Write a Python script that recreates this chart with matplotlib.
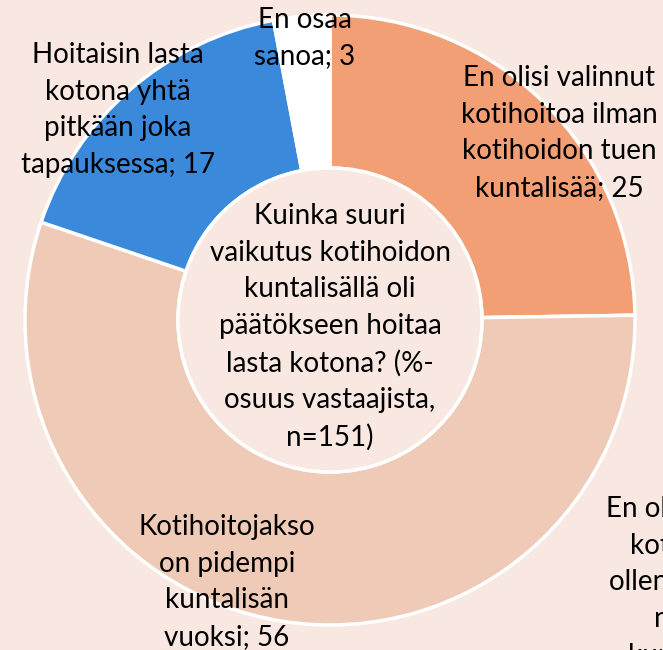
import matplotlib.pyplot as plt

# slice data, clockwise from 12 o'clock
labels = [
    "En olisi valinnut\nkotihoitoa ilman\nkotihoidon tuen\nkuntalisää",
    "En olisi hoitanut\nkotona lasta\nollenkaan ilman\nnykyistä\nkuntalisää",
    "Kotihoitojakso\non pidempi\nkuntalisän\nvuoksi",
    "Hoitaisin lasta\nkotona yhtä\npitkään joka\ntapauksessa",
    "En osaa\nsanoa",
]
values = [25, 0, 56, 17, 3]
colors = ["#f29f76", "#f0a886", "#efcbb7", "#3b89db", "#ffffff"]

title = ("Kuinka suuri\nvaikutus kotihoidon\nkuntalisällä oli\npäätökseen hoitaa\n"
         "lasta kotona? (%-\nosuus vastaajista,\nn=151)")

bg = "#f8e8e1"
W, H = 663, 650

fig = plt.figure(figsize=(W / 100, H / 100), dpi=100, facecolor=bg)
ax = fig.add_axes([0, 0, 1, 1])
ax.set_facecolor(bg)

cx, cy, R = 330, H - 320, 305
ring = 153

ax.pie(values, colors=colors, startangle=90, counterclock=False,
       center=(cx, cy), radius=R,
       wedgeprops=dict(width=ring, edgecolor="white", linewidth=2.5))

hole = plt.Circle((cx, cy), R - ring, facecolor=bg, edgecolor="white", linewidth=2.5)
ax.add_patch(hole)

# label positions in pixels (x, y from top)
label_pos = [(559, 133), (704, 582), (227, 582), (118, 110), (305, 38)]
for lab, v, (x, y) in zip(labels, values, label_pos):
    ax.text(x, H - y, f"{lab}; {v}", ha="center", va="center",
            fontsize=20, family="Lato", linespacing=1.5, color="black")

ax.text(cx, H - 327, title, ha="center", va="center",
        fontsize=20, family="Lato", linespacing=1.5, color="black")

ax.set_xlim(0, W)
ax.set_ylim(0, H)
ax.set_aspect("equal")
ax.axis("off")

fig.savefig("out.png", dpi=100, facecolor=bg)
